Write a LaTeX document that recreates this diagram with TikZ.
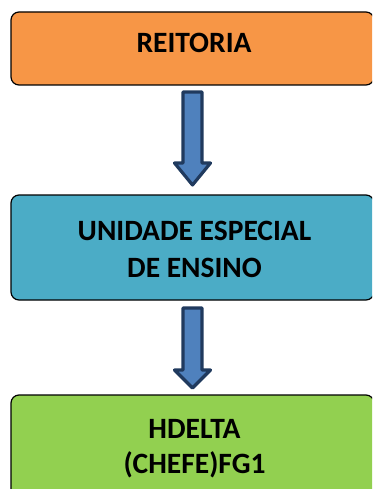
\documentclass[tikz,border=0pt]{standalone}
\usepackage{fontspec}
\setmainfont{Carlito}
\usetikzlibrary{calc}
\definecolor{orgfill}{HTML}{F79646}
\definecolor{aquafill}{HTML}{4BACC6}
\definecolor{grnfill}{HTML}{92D050}
\definecolor{arrfill}{HTML}{4F81BD}
\definecolor{arrline}{HTML}{203A5E}
\tikzset{
  box/.style={draw=black, line width=1.2pt, rounded corners=8pt, minimum width=363pt, inner sep=0pt, outer sep=0pt},
  lbl/.style={font=\fontsize{29.5}{37}\selectfont\bfseries, text=black, anchor=base, inner sep=0pt},
  barrow/.style={draw=arrline, fill=arrfill, line width=3.2pt, line join=round},
}
\newcommand\blockarrow[3]{%
  \draw[barrow] ($(#1)+(-9.5,0)$) -- ($(#1)+(9.5,0)$) -- ($(#2)+(9.5,-#3)$) -- ($(#2)+(18,-#3)$) -- (#2) -- ($(#2)+(-18,-#3)$) -- ($(#2)+(-9.5,-#3)$) -- cycle;}
\begin{document}
\begin{tikzpicture}[x=1pt,y=-1pt]
\useasboundingbox (0,0) rectangle (372,489);
\clip (0,0) rectangle (372,489);
\node[box, fill=orgfill, minimum height=73pt, anchor=north west] (r) at (11,12) {};
\node[box, fill=aquafill, minimum height=105pt, anchor=north west] (u) at (11,195) {};
\node[box, fill=grnfill, minimum height=105pt, anchor=north west] (h) at (11,395) {};
\node[lbl] (rt) at ($(r.north)+(1.5,41)$) {REITORIA};
\node[lbl] (ut1) at ($(u.north)+(2,45)$) {UNIDADE ESPECIAL};
\node[lbl] (ut2) at ($(u.north)+(2,82)$) {DE ENSINO};
\node[lbl] (ht1) at ($(h.north)+(2,43)$) {HDELTA};
\node[lbl] (ht2) at ($(h.north)+(2,78)$) {(CHEFE)FG1};
\coordinate (a1s) at ($(r.south)+(0,7)$);
\coordinate (a1e) at ($(u.north)+(0,-10)$);
\coordinate (a2s) at ($(u.south)+(0,8)$);
\coordinate (a2e) at ($(h.north)+(0,-7)$);
\blockarrow{a1s}{a1e}{22}
\blockarrow{a2s}{a2e}{18}
\end{tikzpicture}
\end{document}
